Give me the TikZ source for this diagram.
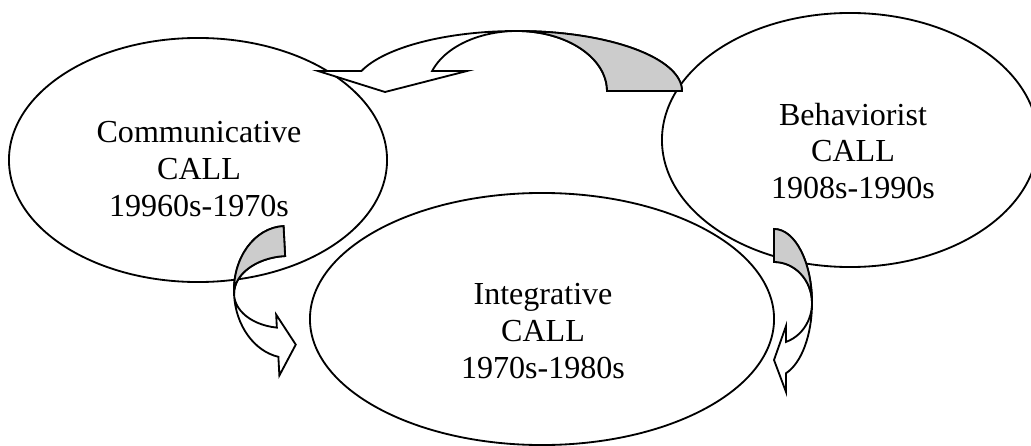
\documentclass[tikz,border=0pt]{standalone}
\usepackage{fontspec}
\setmainfont{Liberation Serif}
\usetikzlibrary{shapes.geometric}

\begin{document}
\begin{tikzpicture}[x=0.025cm,y=-0.025cm,line width=1.3pt,
	era/.style={draw,ellipse,inner sep=0pt},
	eratext/.style={align=center,font=\fontsize{22.8}{26}\selectfont},
	bendfront/.style={draw,fill=white,line join=miter},
	bendback/.style={draw,fill=black!20}]
	\useasboundingbox (0,0) rectangle (1031,446);
	% the three periods
	\node[era,minimum width=9.45cm,minimum height=6.1cm] (comm) at (198,160) {};
	\node[era,minimum width=9.4cm,minimum height=6.35cm] (behav) at (850,140) {};
	\node[era,minimum width=11.6cm,minimum height=6.3cm] (integ) at (542,319) {};
	\node[eratext] (commtext) at (199,169) {Communicative\\CALL\\19960s-1970s};
	\node[eratext] (behavtext) at (853,151) {Behaviorist\\CALL\\1908s-1990s};
	\node[eratext] (integtext) at (543,331) {Integrative\\CALL\\1970s-1980s};
	% top arrow
	\begin{scope}[shift={(517,91)}]
		\draw[bendfront] (165,0) arc[start angle=0,end angle=-160.53,x radius=165,y radius=60] -- (-199,-20) -- (-132,1) -- (-50,-20) -- (-84.86,-20) arc[start angle=-160.53,end angle=0,x radius=90,y radius=60] -- cycle;
		\draw[bendback] (0,-60) arc[start angle=-90,end angle=0,x radius=165,y radius=60] -- (90,0) arc[start angle=0,end angle=-90,x radius=90,y radius=60] -- cycle;
	\end{scope}
	% left arrow
	\begin{scope}[shift={(287,292)},rotate=93]
		\draw[bendfront] (66,0) arc[start angle=0,end angle=-166.91,x radius=66,y radius=53] -- (-83,-12) -- (-53,6) -- (-22,-12) -- (-35.06,-12) arc[start angle=-166.91,end angle=0,x radius=36,y radius=53] -- cycle;
		\draw[bendback] (0,-53) arc[start angle=-90,end angle=0,x radius=66,y radius=53] -- (36,0) arc[start angle=0,end angle=-90,x radius=36,y radius=53] -- cycle;
	\end{scope}
	% right arrow
	\begin{scope}[shift={(774,303)},xscale=-1,rotate=90]
		\draw[bendfront] (74,0) arc[start angle=0,end angle=-161.59,x radius=74,y radius=38] -- (-89,-12) -- (-57,0) -- (-23,-12) -- (-38.9,-12) arc[start angle=-161.59,end angle=0,x radius=41,y radius=38] -- cycle;
		\draw[bendback] (0,-38) arc[start angle=-90,end angle=0,x radius=74,y radius=38] -- (41,0) arc[start angle=0,end angle=-90,x radius=41,y radius=38] -- cycle;
	\end{scope}
\end{tikzpicture}
\end{document}
